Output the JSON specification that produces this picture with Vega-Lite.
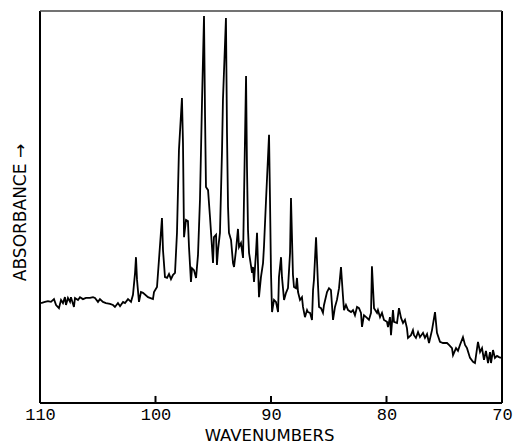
{
  "$schema": "https://vega.github.io/schema/vega-lite/v6.json",
  "width": 462,
  "height": 392,
  "autosize": {"type": "none"},
  "padding": {"left": 40, "top": 11, "right": 14, "bottom": 41},
  "background": "white",
  "config": {
    "view": {"stroke": null},
    "axis": {"grid": false, "domain": false}
  },
  "datasets": {
    "spectrum": [
      {"wavenumber": 109.91, "absorbance": 0.255},
      {"wavenumber": 109.57, "absorbance": 0.258},
      {"wavenumber": 109.31, "absorbance": 0.260},
      {"wavenumber": 109.05, "absorbance": 0.258},
      {"wavenumber": 108.79, "absorbance": 0.265},
      {"wavenumber": 108.61, "absorbance": 0.250},
      {"wavenumber": 108.36, "absorbance": 0.242},
      {"wavenumber": 108.18, "absorbance": 0.263},
      {"wavenumber": 108.01, "absorbance": 0.255},
      {"wavenumber": 107.84, "absorbance": 0.270},
      {"wavenumber": 107.75, "absorbance": 0.250},
      {"wavenumber": 107.58, "absorbance": 0.268},
      {"wavenumber": 107.40, "absorbance": 0.258},
      {"wavenumber": 107.32, "absorbance": 0.270},
      {"wavenumber": 107.06, "absorbance": 0.245},
      {"wavenumber": 106.97, "absorbance": 0.268},
      {"wavenumber": 106.71, "absorbance": 0.263},
      {"wavenumber": 106.54, "absorbance": 0.270},
      {"wavenumber": 106.28, "absorbance": 0.265},
      {"wavenumber": 106.02, "absorbance": 0.268},
      {"wavenumber": 105.67, "absorbance": 0.268},
      {"wavenumber": 105.41, "absorbance": 0.270},
      {"wavenumber": 105.24, "absorbance": 0.268},
      {"wavenumber": 104.98, "absorbance": 0.258},
      {"wavenumber": 104.81, "absorbance": 0.265},
      {"wavenumber": 104.55, "absorbance": 0.258},
      {"wavenumber": 104.29, "absorbance": 0.255},
      {"wavenumber": 103.94, "absorbance": 0.253},
      {"wavenumber": 103.68, "absorbance": 0.250},
      {"wavenumber": 103.51, "absorbance": 0.245},
      {"wavenumber": 103.25, "absorbance": 0.255},
      {"wavenumber": 103.07, "absorbance": 0.247},
      {"wavenumber": 102.81, "absorbance": 0.258},
      {"wavenumber": 102.64, "absorbance": 0.255},
      {"wavenumber": 102.38, "absorbance": 0.265},
      {"wavenumber": 102.12, "absorbance": 0.258},
      {"wavenumber": 101.95, "absorbance": 0.276},
      {"wavenumber": 101.77, "absorbance": 0.332},
      {"wavenumber": 101.69, "absorbance": 0.372},
      {"wavenumber": 101.60, "absorbance": 0.314},
      {"wavenumber": 101.43, "absorbance": 0.258},
      {"wavenumber": 101.26, "absorbance": 0.283},
      {"wavenumber": 101.08, "absorbance": 0.281},
      {"wavenumber": 100.65, "absorbance": 0.270},
      {"wavenumber": 100.22, "absorbance": 0.265},
      {"wavenumber": 100.13, "absorbance": 0.283},
      {"wavenumber": 99.87, "absorbance": 0.296},
      {"wavenumber": 99.70, "absorbance": 0.365},
      {"wavenumber": 99.44, "absorbance": 0.472},
      {"wavenumber": 99.35, "absorbance": 0.390},
      {"wavenumber": 99.18, "absorbance": 0.321},
      {"wavenumber": 99.00, "absorbance": 0.319},
      {"wavenumber": 98.83, "absorbance": 0.329},
      {"wavenumber": 98.66, "absorbance": 0.316},
      {"wavenumber": 98.48, "absorbance": 0.327},
      {"wavenumber": 98.31, "absorbance": 0.332},
      {"wavenumber": 98.14, "absorbance": 0.434},
      {"wavenumber": 97.97, "absorbance": 0.645},
      {"wavenumber": 97.71, "absorbance": 0.778},
      {"wavenumber": 97.62, "absorbance": 0.663},
      {"wavenumber": 97.53, "absorbance": 0.423},
      {"wavenumber": 97.36, "absorbance": 0.467},
      {"wavenumber": 97.19, "absorbance": 0.464},
      {"wavenumber": 97.10, "absorbance": 0.398},
      {"wavenumber": 96.93, "absorbance": 0.309},
      {"wavenumber": 96.84, "absorbance": 0.344},
      {"wavenumber": 96.67, "absorbance": 0.339},
      {"wavenumber": 96.49, "absorbance": 0.319},
      {"wavenumber": 96.32, "absorbance": 0.378},
      {"wavenumber": 96.15, "absorbance": 0.518},
      {"wavenumber": 95.97, "absorbance": 0.773},
      {"wavenumber": 95.80, "absorbance": 0.987},
      {"wavenumber": 95.71, "absorbance": 0.730},
      {"wavenumber": 95.63, "absorbance": 0.551},
      {"wavenumber": 95.45, "absorbance": 0.543},
      {"wavenumber": 95.28, "absorbance": 0.474},
      {"wavenumber": 95.11, "absorbance": 0.398},
      {"wavenumber": 95.02, "absorbance": 0.357},
      {"wavenumber": 94.94, "absorbance": 0.423},
      {"wavenumber": 94.76, "absorbance": 0.429},
      {"wavenumber": 94.68, "absorbance": 0.352},
      {"wavenumber": 94.59, "absorbance": 0.390},
      {"wavenumber": 94.42, "absorbance": 0.434},
      {"wavenumber": 94.24, "absorbance": 0.645},
      {"wavenumber": 94.16, "absorbance": 0.773},
      {"wavenumber": 93.90, "absorbance": 0.982},
      {"wavenumber": 93.81, "absorbance": 0.689},
      {"wavenumber": 93.72, "absorbance": 0.500},
      {"wavenumber": 93.64, "absorbance": 0.434},
      {"wavenumber": 93.46, "absorbance": 0.416},
      {"wavenumber": 93.29, "absorbance": 0.357},
      {"wavenumber": 93.20, "absorbance": 0.347},
      {"wavenumber": 93.03, "absorbance": 0.390},
      {"wavenumber": 92.86, "absorbance": 0.444},
      {"wavenumber": 92.77, "absorbance": 0.398},
      {"wavenumber": 92.60, "absorbance": 0.408},
      {"wavenumber": 92.42, "absorbance": 0.370},
      {"wavenumber": 92.34, "absorbance": 0.518},
      {"wavenumber": 92.16, "absorbance": 0.834},
      {"wavenumber": 92.08, "absorbance": 0.602},
      {"wavenumber": 91.99, "absorbance": 0.441},
      {"wavenumber": 91.90, "absorbance": 0.383},
      {"wavenumber": 91.64, "absorbance": 0.332},
      {"wavenumber": 91.56, "absorbance": 0.347},
      {"wavenumber": 91.47, "absorbance": 0.309},
      {"wavenumber": 91.30, "absorbance": 0.383},
      {"wavenumber": 91.21, "absorbance": 0.434},
      {"wavenumber": 91.13, "absorbance": 0.357},
      {"wavenumber": 91.04, "absorbance": 0.270},
      {"wavenumber": 90.87, "absorbance": 0.321},
      {"wavenumber": 90.69, "absorbance": 0.357},
      {"wavenumber": 90.61, "absorbance": 0.398},
      {"wavenumber": 90.43, "absorbance": 0.518},
      {"wavenumber": 90.17, "absorbance": 0.684},
      {"wavenumber": 90.09, "absorbance": 0.526},
      {"wavenumber": 90.00, "absorbance": 0.332},
      {"wavenumber": 89.91, "absorbance": 0.232},
      {"wavenumber": 89.74, "absorbance": 0.263},
      {"wavenumber": 89.57, "absorbance": 0.258},
      {"wavenumber": 89.39, "absorbance": 0.232},
      {"wavenumber": 89.31, "absorbance": 0.321},
      {"wavenumber": 89.13, "absorbance": 0.372},
      {"wavenumber": 89.05, "absorbance": 0.321},
      {"wavenumber": 88.87, "absorbance": 0.263},
      {"wavenumber": 88.70, "absorbance": 0.281},
      {"wavenumber": 88.53, "absorbance": 0.293},
      {"wavenumber": 88.35, "absorbance": 0.383},
      {"wavenumber": 88.27, "absorbance": 0.523},
      {"wavenumber": 88.10, "absorbance": 0.327},
      {"wavenumber": 88.01, "absorbance": 0.296},
      {"wavenumber": 87.84, "absorbance": 0.293},
      {"wavenumber": 87.75, "absorbance": 0.319},
      {"wavenumber": 87.66, "absorbance": 0.283},
      {"wavenumber": 87.49, "absorbance": 0.263},
      {"wavenumber": 87.32, "absorbance": 0.270},
      {"wavenumber": 87.23, "absorbance": 0.245},
      {"wavenumber": 87.06, "absorbance": 0.219},
      {"wavenumber": 86.88, "absorbance": 0.237},
      {"wavenumber": 86.80, "absorbance": 0.232},
      {"wavenumber": 86.62, "absorbance": 0.230},
      {"wavenumber": 86.45, "absorbance": 0.212},
      {"wavenumber": 86.36, "absorbance": 0.288},
      {"wavenumber": 86.28, "absorbance": 0.314},
      {"wavenumber": 86.10, "absorbance": 0.423},
      {"wavenumber": 85.93, "absorbance": 0.301},
      {"wavenumber": 85.84, "absorbance": 0.245},
      {"wavenumber": 85.67, "absorbance": 0.242},
      {"wavenumber": 85.50, "absorbance": 0.230},
      {"wavenumber": 85.41, "absorbance": 0.250},
      {"wavenumber": 85.15, "absorbance": 0.283},
      {"wavenumber": 84.98, "absorbance": 0.293},
      {"wavenumber": 84.81, "absorbance": 0.288},
      {"wavenumber": 84.63, "absorbance": 0.212},
      {"wavenumber": 84.46, "absorbance": 0.245},
      {"wavenumber": 84.29, "absorbance": 0.263},
      {"wavenumber": 84.11, "absorbance": 0.293},
      {"wavenumber": 83.94, "absorbance": 0.347},
      {"wavenumber": 83.77, "absorbance": 0.273},
      {"wavenumber": 83.68, "absorbance": 0.237},
      {"wavenumber": 83.51, "absorbance": 0.250},
      {"wavenumber": 83.33, "absorbance": 0.237},
      {"wavenumber": 83.07, "absorbance": 0.232},
      {"wavenumber": 82.90, "absorbance": 0.237},
      {"wavenumber": 82.73, "absorbance": 0.224},
      {"wavenumber": 82.55, "absorbance": 0.245},
      {"wavenumber": 82.38, "absorbance": 0.242},
      {"wavenumber": 82.21, "absorbance": 0.230},
      {"wavenumber": 82.12, "absorbance": 0.194},
      {"wavenumber": 81.95, "absorbance": 0.224},
      {"wavenumber": 81.69, "absorbance": 0.217},
      {"wavenumber": 81.52, "absorbance": 0.212},
      {"wavenumber": 81.34, "absorbance": 0.230},
      {"wavenumber": 81.26, "absorbance": 0.349},
      {"wavenumber": 81.08, "absorbance": 0.242},
      {"wavenumber": 80.82, "absorbance": 0.230},
      {"wavenumber": 80.74, "absorbance": 0.237},
      {"wavenumber": 80.56, "absorbance": 0.219},
      {"wavenumber": 80.39, "absorbance": 0.230},
      {"wavenumber": 80.22, "absorbance": 0.212},
      {"wavenumber": 79.96, "absorbance": 0.207},
      {"wavenumber": 79.87, "absorbance": 0.194},
      {"wavenumber": 79.70, "absorbance": 0.219},
      {"wavenumber": 79.61, "absorbance": 0.173},
      {"wavenumber": 79.44, "absorbance": 0.237},
      {"wavenumber": 79.35, "absorbance": 0.207},
      {"wavenumber": 79.09, "absorbance": 0.204},
      {"wavenumber": 78.92, "absorbance": 0.242},
      {"wavenumber": 78.74, "absorbance": 0.217},
      {"wavenumber": 78.57, "absorbance": 0.204},
      {"wavenumber": 78.40, "absorbance": 0.212},
      {"wavenumber": 78.23, "absorbance": 0.191},
      {"wavenumber": 78.14, "absorbance": 0.166},
      {"wavenumber": 77.88, "absorbance": 0.173},
      {"wavenumber": 77.71, "absorbance": 0.186},
      {"wavenumber": 77.62, "absorbance": 0.173},
      {"wavenumber": 77.45, "absorbance": 0.166},
      {"wavenumber": 77.27, "absorbance": 0.181},
      {"wavenumber": 77.10, "absorbance": 0.168},
      {"wavenumber": 76.84, "absorbance": 0.179},
      {"wavenumber": 76.67, "absorbance": 0.166},
      {"wavenumber": 76.49, "absorbance": 0.176},
      {"wavenumber": 76.32, "absorbance": 0.153},
      {"wavenumber": 76.06, "absorbance": 0.186},
      {"wavenumber": 75.80, "absorbance": 0.232},
      {"wavenumber": 75.63, "absorbance": 0.179},
      {"wavenumber": 75.37, "absorbance": 0.156},
      {"wavenumber": 75.11, "absorbance": 0.153},
      {"wavenumber": 74.76, "absorbance": 0.153},
      {"wavenumber": 74.59, "absorbance": 0.148},
      {"wavenumber": 74.33, "absorbance": 0.140},
      {"wavenumber": 74.24, "absorbance": 0.122},
      {"wavenumber": 73.98, "absorbance": 0.140},
      {"wavenumber": 73.81, "absorbance": 0.133},
      {"wavenumber": 73.64, "absorbance": 0.148},
      {"wavenumber": 73.38, "absorbance": 0.168},
      {"wavenumber": 73.20, "absorbance": 0.148},
      {"wavenumber": 73.03, "absorbance": 0.140},
      {"wavenumber": 72.77, "absorbance": 0.115},
      {"wavenumber": 72.51, "absorbance": 0.105},
      {"wavenumber": 72.34, "absorbance": 0.102},
      {"wavenumber": 72.08, "absorbance": 0.156},
      {"wavenumber": 71.90, "absorbance": 0.130},
      {"wavenumber": 71.73, "absorbance": 0.140},
      {"wavenumber": 71.56, "absorbance": 0.110},
      {"wavenumber": 71.39, "absorbance": 0.133},
      {"wavenumber": 71.21, "absorbance": 0.102},
      {"wavenumber": 71.04, "absorbance": 0.130},
      {"wavenumber": 70.95, "absorbance": 0.102},
      {"wavenumber": 70.78, "absorbance": 0.135},
      {"wavenumber": 70.61, "absorbance": 0.115},
      {"wavenumber": 70.43, "absorbance": 0.120},
      {"wavenumber": 70.26, "absorbance": 0.117},
      {"wavenumber": 70.09, "absorbance": 0.115}
    ],
    "ticks": [
      {"wavenumber": 100},
      {"wavenumber": 90},
      {"wavenumber": 80}
    ],
    "one": [{}]
  },
  "layer": [
    {
      "data": {"name": "spectrum"},
      "mark": {"type": "line", "color": "#000", "strokeWidth": 1.8, "strokeJoin": "miter", "clip": true},
      "encoding": {
        "x": {
          "field": "wavenumber",
          "type": "quantitative",
          "scale": {"domain": [110, 70], "nice": false, "zero": false},
          "axis": {
            "values": [110, 100, 90, 80, 70],
            "format": "d",
            "ticks": false,
            "labelFont": "Liberation Mono",
            "labelFontSize": 17,
            "labelColor": "#000",
            "labelPadding": 3,
            "labelFlush": false,
            "title": "WAVENUMBERS",
            "titleFont": "DejaVu Sans",
            "titleFontSize": 16.5,
            "titleFontWeight": "normal",
            "titleColor": "#000",
            "titleBaseline": "alphabetic",
            "titleY": 37,
            "titleX": 229
          }
        },
        "y": {
          "field": "absorbance",
          "type": "quantitative",
          "scale": {"domain": [0, 1], "nice": false},
          "axis": {
            "ticks": false,
            "labels": false,
            "title": "ABSORBANCE →",
            "titleFont": "DejaVu Sans",
            "titleFontSize": 17,
            "titleFontWeight": "normal",
            "titleColor": "#000",
            "titlePadding": 11,
            "titleY": 201
          }
        }
      }
    },
    {
      "data": {"name": "ticks"},
      "mark": {"type": "rule", "color": "#000", "strokeWidth": 2},
      "encoding": {
        "x": {"field": "wavenumber", "type": "quantitative"},
        "y": {"datum": 0},
        "y2": {"datum": 0.018}
      }
    },
    {
      "data": {"name": "one"},
      "mark": {"type": "rule", "color": "#000", "strokeWidth": 2},
      "encoding": {"x": {"datum": 110}}
    },
    {
      "data": {"name": "one"},
      "mark": {"type": "rule", "color": "#000", "strokeWidth": 2},
      "encoding": {"x": {"datum": 70}}
    },
    {
      "data": {"name": "one"},
      "mark": {"type": "rule", "color": "#000", "strokeWidth": 2},
      "encoding": {"y": {"datum": 0}}
    },
    {
      "data": {"name": "one"},
      "mark": {"type": "rule", "color": "#444", "strokeWidth": 1.3},
      "encoding": {"y": {"datum": 1}}
    }
  ]
}
